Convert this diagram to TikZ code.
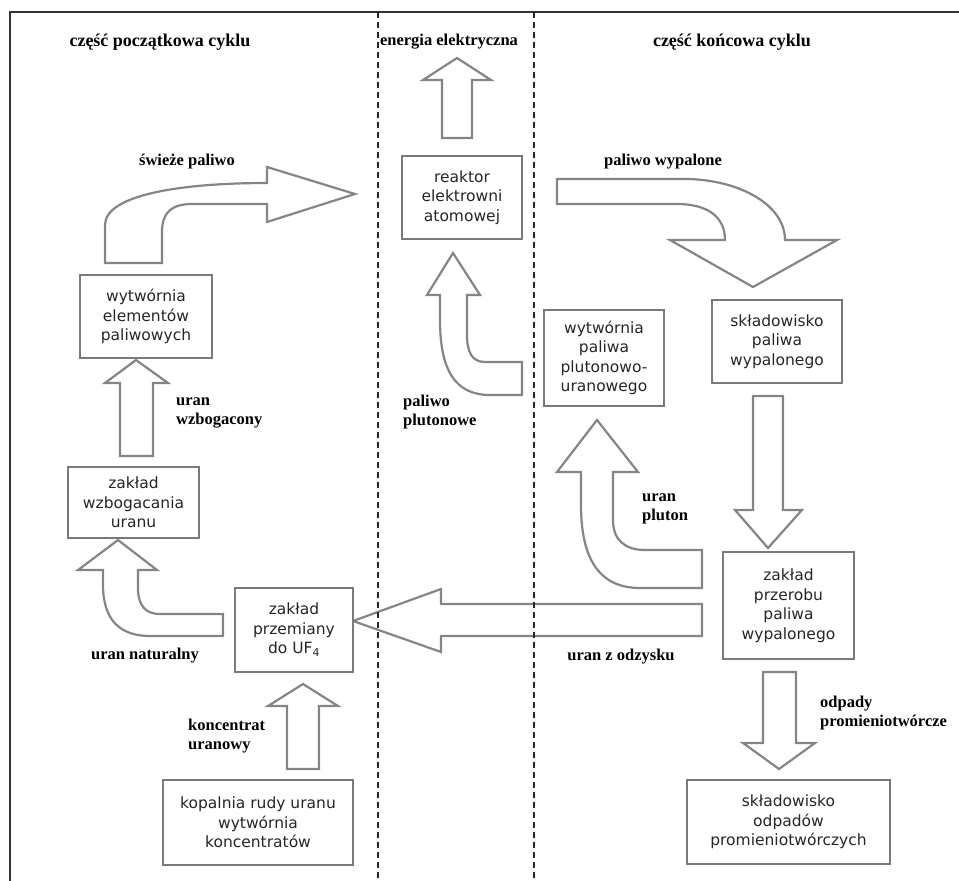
\documentclass[tikz,border=0pt]{standalone}
\usepackage{fontspec}
\setmainfont{Liberation Serif}
\newfontfamily\boxfont{DejaVu Sans}
\definecolor{boxgray}{HTML}{7A7A7A}
\definecolor{arrgray}{HTML}{858585}
\begin{document}
\begin{tikzpicture}[x=1pt,y=-1pt,
  box/.style={draw=boxgray, line width=2.4pt, fill=white, inner sep=0pt, align=center,
    font=\boxfont\fontsize{15.5}{19.5}\selectfont, text=black!85},
  lbl/.style={font=\bfseries\fontsize{16.5}{19}\selectfont, inner sep=0pt, align=left},
  ttl/.style={font=\bfseries\fontsize{18}{20}\selectfont, inner sep=0pt},
  barrow/.style={draw=arrgray, line width=2.2pt, fill=white, line join=miter},
  sepline/.style={dash pattern=on 6pt off 4pt, line width=1.2pt, black!85}]
\useasboundingbox (0,0) rectangle (959,881);

% frame
\draw[line width=1.5pt, black!80] (10,881) -- (10,12) -- (959,12);

% block arrows
% energia elektryczna (up)
\draw[barrow] (442,138) -- (442,80) -- (423,80) -- (457,58) -- (491,80) -- (472,80) -- (472,138) -- cycle;
% uran wzbogacony (up)
\draw[barrow] (120,456) -- (120,383) -- (105,383) -- (136,360) -- (168,383) -- (153,383) -- (153,456) -- cycle;
% koncentrat uranowy (up)
\draw[barrow] (287,769) -- (287,706) -- (268,706) -- (303,684) -- (338,706) -- (319,706) -- (319,769) -- cycle;
% skladowisko -> przerob (down)
\draw[barrow] (753,396) -- (753,510) -- (735,510) -- (768,548) -- (802,510) -- (783,510) -- (783,396) -- cycle;
% odpady (down)
\draw[barrow] (763,672) -- (763,743) -- (743,743) -- (779,769) -- (815,743) -- (796,743) -- (796,672) -- cycle;
% uran z odzysku (left)
\draw[barrow] (702,604) -- (441,604) -- (441,589) -- (353,621) -- (441,652) -- (441,636) -- (702,636) -- cycle;
% swieze paliwo (curved)
\draw[barrow] (162,263) -- (162,232) .. controls (162,214) and (170,204) .. (192,204) -- (267,204)
  -- (267,222) -- (355,194) -- (267,167) -- (267,183)
  .. controls (180,183) and (105,195) .. (105,225) -- (105,263) -- cycle;
% paliwo wypalone (curved)
\draw[barrow] (557,179) -- (687,179) .. controls (740,180) and (785,205) .. (785,240)
  -- (837,240) -- (753,287) -- (670,240) -- (725,240)
  .. controls (725,215) and (705,204) .. (677,204) -- (557,204) -- cycle;
% paliwo plutonowe (curved)
\draw[barrow] (522,362) -- (485,362) .. controls (472,362) and (467,352) .. (467,335) -- (467,295)
  -- (480,295) -- (453,253) -- (427,295) -- (440,295) -- (440,320)
  .. controls (440,370) and (455,395) .. (490,395) -- (522,395) -- cycle;
% uran pluton (curved)
\draw[barrow] (702,588) -- (640,588) .. controls (600,588) and (581,560) .. (581,505) -- (581,472)
  -- (557,472) -- (597,420) -- (638,472) -- (613,472) -- (613,520)
  .. controls (613,540) and (625,550) .. (645,550) -- (702,550) -- cycle;
% uran naturalny (curved)
\draw[barrow] (223,614) -- (160,614) .. controls (145,614) and (138,605) .. (138,588) -- (138,570)
  -- (157,570) -- (118,540) -- (78,570) -- (103,570) -- (103,585)
  .. controls (103,620) and (120,636) .. (150,636) -- (223,636) -- cycle;

% boxes
\node[box, minimum width=120pt, minimum height=83pt] (reaktor) at (462,197.5) {reaktor\\elektrowni\\atomowej};
\node[box, minimum width=132pt, minimum height=83pt] (wytwel) at (146,316.5) {wytwórnia\\elementów\\paliwowych};
\node[box, minimum width=131pt, minimum height=71pt] (wzbog) at (133.5,502.5) {zakład\\wzbogacania\\uranu};
\node[box, minimum width=118pt, minimum height=84pt] (przem) at (294,630) {zakład\\przemiany\\do UF\textsubscript{4}};
\node[box, minimum width=190pt, minimum height=85pt] (kopal) at (258,822.5) {kopalnia rudy uranu\\wytwórnia\\koncentratów};
\node[box, minimum width=130pt, minimum height=83pt] (sklpal) at (777,341.5) {składowisko\\paliwa\\wypalonego};
\node[box, minimum width=120pt, minimum height=96pt] (wytwpu) at (604,358) {wytwórnia\\paliwa\\plutonowo-\\uranowego};
\node[box, minimum width=131pt, minimum height=107pt] (przer) at (788.5,605.5) {zakład\\przerobu\\paliwa\\wypalonego};
\node[box, minimum width=203pt, minimum height=84pt] (sklodp) at (788.5,822) {składowisko\\odpadów\\promieniotwórczych};

% separators
\draw[sepline] (378,12) -- (378,881);
\draw[sepline] (534,12) -- (534,881);

% titles
\node[ttl] (t1) at (160,42) {część początkowa cyklu};
\node[ttl, font=\bfseries\fontsize{16.5}{19}\selectfont] (t2) at (449,42) {energia elektryczna};
\node[ttl] (t3) at (732,42) {część końcowa cyklu};

% labels
\node[lbl] (l1) at (187,162) {świeże paliwo};
\node[lbl] (l2) at (663,162) {paliwo wypalone};
\node[lbl, anchor=west] (l3) at (176,412.5) {uran\\wzbogacony};
\node[lbl, anchor=west] (l4) at (403,412) {paliwo\\plutonowe};
\node[lbl, anchor=west] (l5) at (642,508.5) {uran\\pluton};
\node[lbl] (l6) at (145,656) {uran naturalny};
\node[lbl] (l7) at (621,657) {uran z odzysku};
\node[lbl, anchor=west] (l8) at (188,736.5) {koncentrat\\uranowy};
\node[lbl, anchor=west] (l9) at (820,713.5) {odpady\\promieniotwórcze};
\end{tikzpicture}
\end{document}
